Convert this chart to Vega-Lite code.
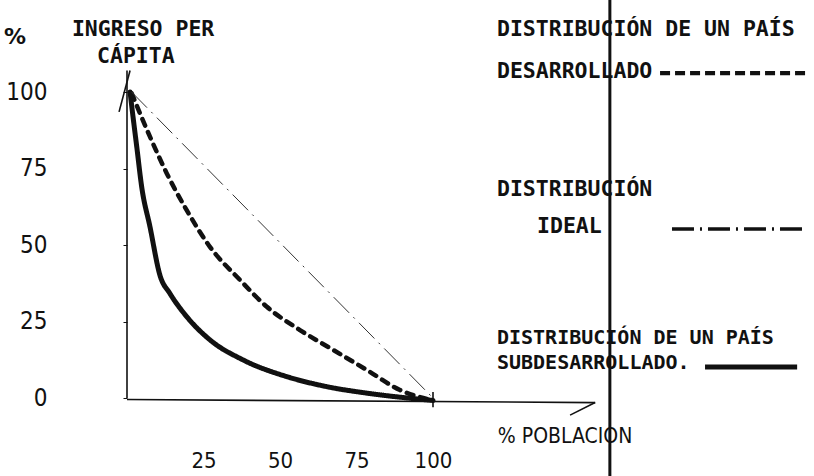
{
  "$schema": "https://vega.github.io/schema/vega-lite/v6.json",
  "width": 306,
  "height": 306,
  "autosize": {"type": "none"},
  "padding": {"left": 127, "top": 92, "right": 381, "bottom": 78},
  "background": "white",
  "config": {"view": {"stroke": null}},
  "resolve": {"scale": {"strokeDash": "independent", "strokeWidth": "independent"}},
  "datasets": {
    "curves": [
      {"s": "sub", "x": 1, "y": 100},
      {"s": "sub", "x": 2.2, "y": 90},
      {"s": "sub", "x": 3.2, "y": 82},
      {"s": "sub", "x": 4.8, "y": 69},
      {"s": "sub", "x": 7.5, "y": 56},
      {"s": "sub", "x": 10.8, "y": 40},
      {"s": "sub", "x": 14, "y": 34.2},
      {"s": "sub", "x": 19.5, "y": 26.6},
      {"s": "sub", "x": 27.1, "y": 19},
      {"s": "sub", "x": 38, "y": 12.4},
      {"s": "sub", "x": 52.2, "y": 7},
      {"s": "sub", "x": 65.3, "y": 3.7},
      {"s": "sub", "x": 78.3, "y": 1.6},
      {"s": "sub", "x": 100, "y": -0.8},
      {"s": "des", "x": 1.5, "y": 99.6},
      {"s": "des", "x": 7.5, "y": 85.4},
      {"s": "des", "x": 13, "y": 73.4},
      {"s": "des", "x": 19.5, "y": 61.4},
      {"s": "des", "x": 27.1, "y": 49.4},
      {"s": "des", "x": 36.9, "y": 38.6},
      {"s": "des", "x": 45.7, "y": 29.8},
      {"s": "des", "x": 56.5, "y": 22.2},
      {"s": "des", "x": 67.4, "y": 15.7},
      {"s": "des", "x": 78.3, "y": 9.2},
      {"s": "des", "x": 89.2, "y": 2.6},
      {"s": "des", "x": 100, "y": -0.8}
    ],
    "ideal": [
      {"x": 1.5, "y": 100},
      {"x": 100, "y": 0}
    ],
    "legend": [
      {"s": "des", "x": 174.2, "x2": 223.2, "y": 106.2},
      {"s": "ideal", "x": 178.1, "x2": 221.6, "y": 55.2},
      {"s": "sub", "x": 188.9, "x2": 219, "y": 10.1}
    ],
    "thin": [
      {"x": 0, "y": 0, "x2": 0, "y2": 107},
      {"x": 0, "y": -0.5, "x2": 153, "y2": -1.5},
      {"x": 153, "y": -1.5, "x2": 144.8, "y2": -5.6},
      {"x": 1, "y": 107, "x2": -2.6, "y2": 93.5},
      {"x": 100, "y": -3, "x2": 100, "y2": 2}
    ],
    "page": [
      {"x": 157.8, "y": -27, "x2": 157.8, "y2": 131}
    ],
    "texts": [
      {"k": "plain", "t": "INGRESO PER", "x": -18, "y": 120.3},
      {"k": "plain", "t": "CÁPITA", "x": -9.8, "y": 111.4},
      {"k": "plain", "t": "DISTRIBUCIÓN DE UN PAÍS", "x": 120.9, "y": 120.3},
      {"k": "plain", "t": "DESARROLLADO", "x": 120.9, "y": 106.5},
      {"k": "plain", "t": "DISTRIBUCIÓN", "x": 120.9, "y": 68},
      {"k": "plain", "t": "IDEAL", "x": 134, "y": 55.9},
      {"k": "small", "t": "DISTRIBUCIÓN DE UN PAÍS", "x": 120.9, "y": 19.5},
      {"k": "small", "t": "SUBDESARROLLADO.", "x": 120.9, "y": 11.5},
      {"k": "cond", "t": "% POBLACION", "x": 121.2, "y": -12.7},
      {"k": "pct", "t": "%", "x": -36.6, "y": 118}
    ]
  },
  "layer": [
    {
      "data": {"name": "curves"},
      "mark": {"type": "line", "strokeCap": "round", "strokeJoin": "round", "color": "#111", "interpolate": "monotone"},
      "encoding": {
        "x": {
          "field": "x", "type": "quantitative",
          "scale": {"domain": [0, 100], "nice": false, "zero": false},
          "axis": {
            "values": [25, 50, 75, 100], "domain": false, "ticks": false, "grid": false,
            "title": null, "labelPadding": 52, "labelFont": "DejaVu Sans Condensed, DejaVu Sans",
            "labelFontSize": 22, "labelColor": "#111", "labelFlush": false
          }
        },
        "y": {
          "field": "y", "type": "quantitative",
          "scale": {"domain": [0, 100], "nice": false, "zero": false},
          "axis": {
            "values": [0, 25, 50, 75, 100], "domain": false, "ticks": true, "tickSize": 4,
            "tickColor": "#111", "grid": false, "title": null, "labelPadding": 76,
            "labelFont": "DejaVu Sans Condensed, DejaVu Sans", "labelFontSize": 24,
            "labelColor": "#111", "labelFlush": false
          }
        },
        "detail": {"field": "s"},
        "strokeDash": {
          "field": "s", "type": "nominal",
          "scale": {"domain": ["sub", "des"], "range": [[1, 0], [7, 7]]},
          "legend": null
        },
        "strokeWidth": {
          "field": "s", "type": "nominal",
          "scale": {"domain": ["sub", "des"], "range": [5, 4.5]},
          "legend": null
        }
      }
    },
    {
      "data": {"name": "ideal"},
      "mark": {"type": "line", "color": "#333", "strokeWidth": 1, "strokeDash": [22, 6, 2, 6]},
      "encoding": {
        "x": {"field": "x", "type": "quantitative"},
        "y": {"field": "y", "type": "quantitative"}
      }
    },
    {
      "data": {"name": "legend"},
      "mark": {"type": "rule", "strokeCap": "butt", "color": "#111"},
      "encoding": {
        "x": {"field": "x", "type": "quantitative"},
        "x2": {"field": "x2"},
        "y": {"field": "y", "type": "quantitative"},
        "strokeDash": {
          "field": "s", "type": "nominal",
          "scale": {"domain": ["sub", "des", "ideal"], "range": [[1, 0], [10, 5], [22, 6, 2, 6]]},
          "legend": null
        },
        "strokeWidth": {
          "field": "s", "type": "nominal",
          "scale": {"domain": ["sub", "des", "ideal"], "range": [5, 3.5, 2]},
          "legend": null
        }
      }
    },
    {
      "data": {"name": "thin"},
      "mark": {"type": "rule", "color": "#111", "strokeWidth": 1.6},
      "encoding": {
        "x": {"field": "x", "type": "quantitative"},
        "y": {"field": "y", "type": "quantitative"},
        "x2": {"field": "x2"},
        "y2": {"field": "y2"}
      }
    },
    {
      "data": {"name": "page"},
      "mark": {"type": "rule", "color": "#111", "strokeWidth": 3},
      "encoding": {
        "x": {"field": "x", "type": "quantitative"},
        "y": {"field": "y", "type": "quantitative"},
        "y2": {"field": "y2"}
      }
    },
    {
      "data": {"name": "texts"},
      "transform": [{"filter": "datum.k === 'plain'"}],
      "mark": {"type": "text", "align": "left", "baseline": "middle", "font": "DejaVu Sans Mono", "fontSize": 21.5, "fontWeight": "bold", "color": "#111"},
      "encoding": {
        "x": {"field": "x", "type": "quantitative"},
        "y": {"field": "y", "type": "quantitative"},
        "text": {"field": "t"}
      }
    },
    {
      "data": {"name": "texts"},
      "transform": [{"filter": "datum.k === 'small'"}],
      "mark": {"type": "text", "align": "left", "baseline": "middle", "font": "DejaVu Sans Mono", "fontSize": 20, "fontWeight": "bold", "color": "#111"},
      "encoding": {
        "x": {"field": "x", "type": "quantitative"},
        "y": {"field": "y", "type": "quantitative"},
        "text": {"field": "t"}
      }
    },
    {
      "data": {"name": "texts"},
      "transform": [{"filter": "datum.k === 'cond'"}],
      "mark": {"type": "text", "align": "left", "baseline": "middle", "font": "DejaVu Sans Condensed, DejaVu Sans", "fontSize": 21, "color": "#111"},
      "encoding": {
        "x": {"field": "x", "type": "quantitative"},
        "y": {"field": "y", "type": "quantitative"},
        "text": {"field": "t"}
      }
    },
    {
      "data": {"name": "texts"},
      "transform": [{"filter": "datum.k === 'pct'"}],
      "mark": {"type": "text", "align": "center", "baseline": "middle", "font": "DejaVu Sans", "fontSize": 22, "fontWeight": "bold", "color": "#111"},
      "encoding": {
        "x": {"field": "x", "type": "quantitative"},
        "y": {"field": "y", "type": "quantitative"},
        "text": {"field": "t"}
      }
    }
  ]
}
